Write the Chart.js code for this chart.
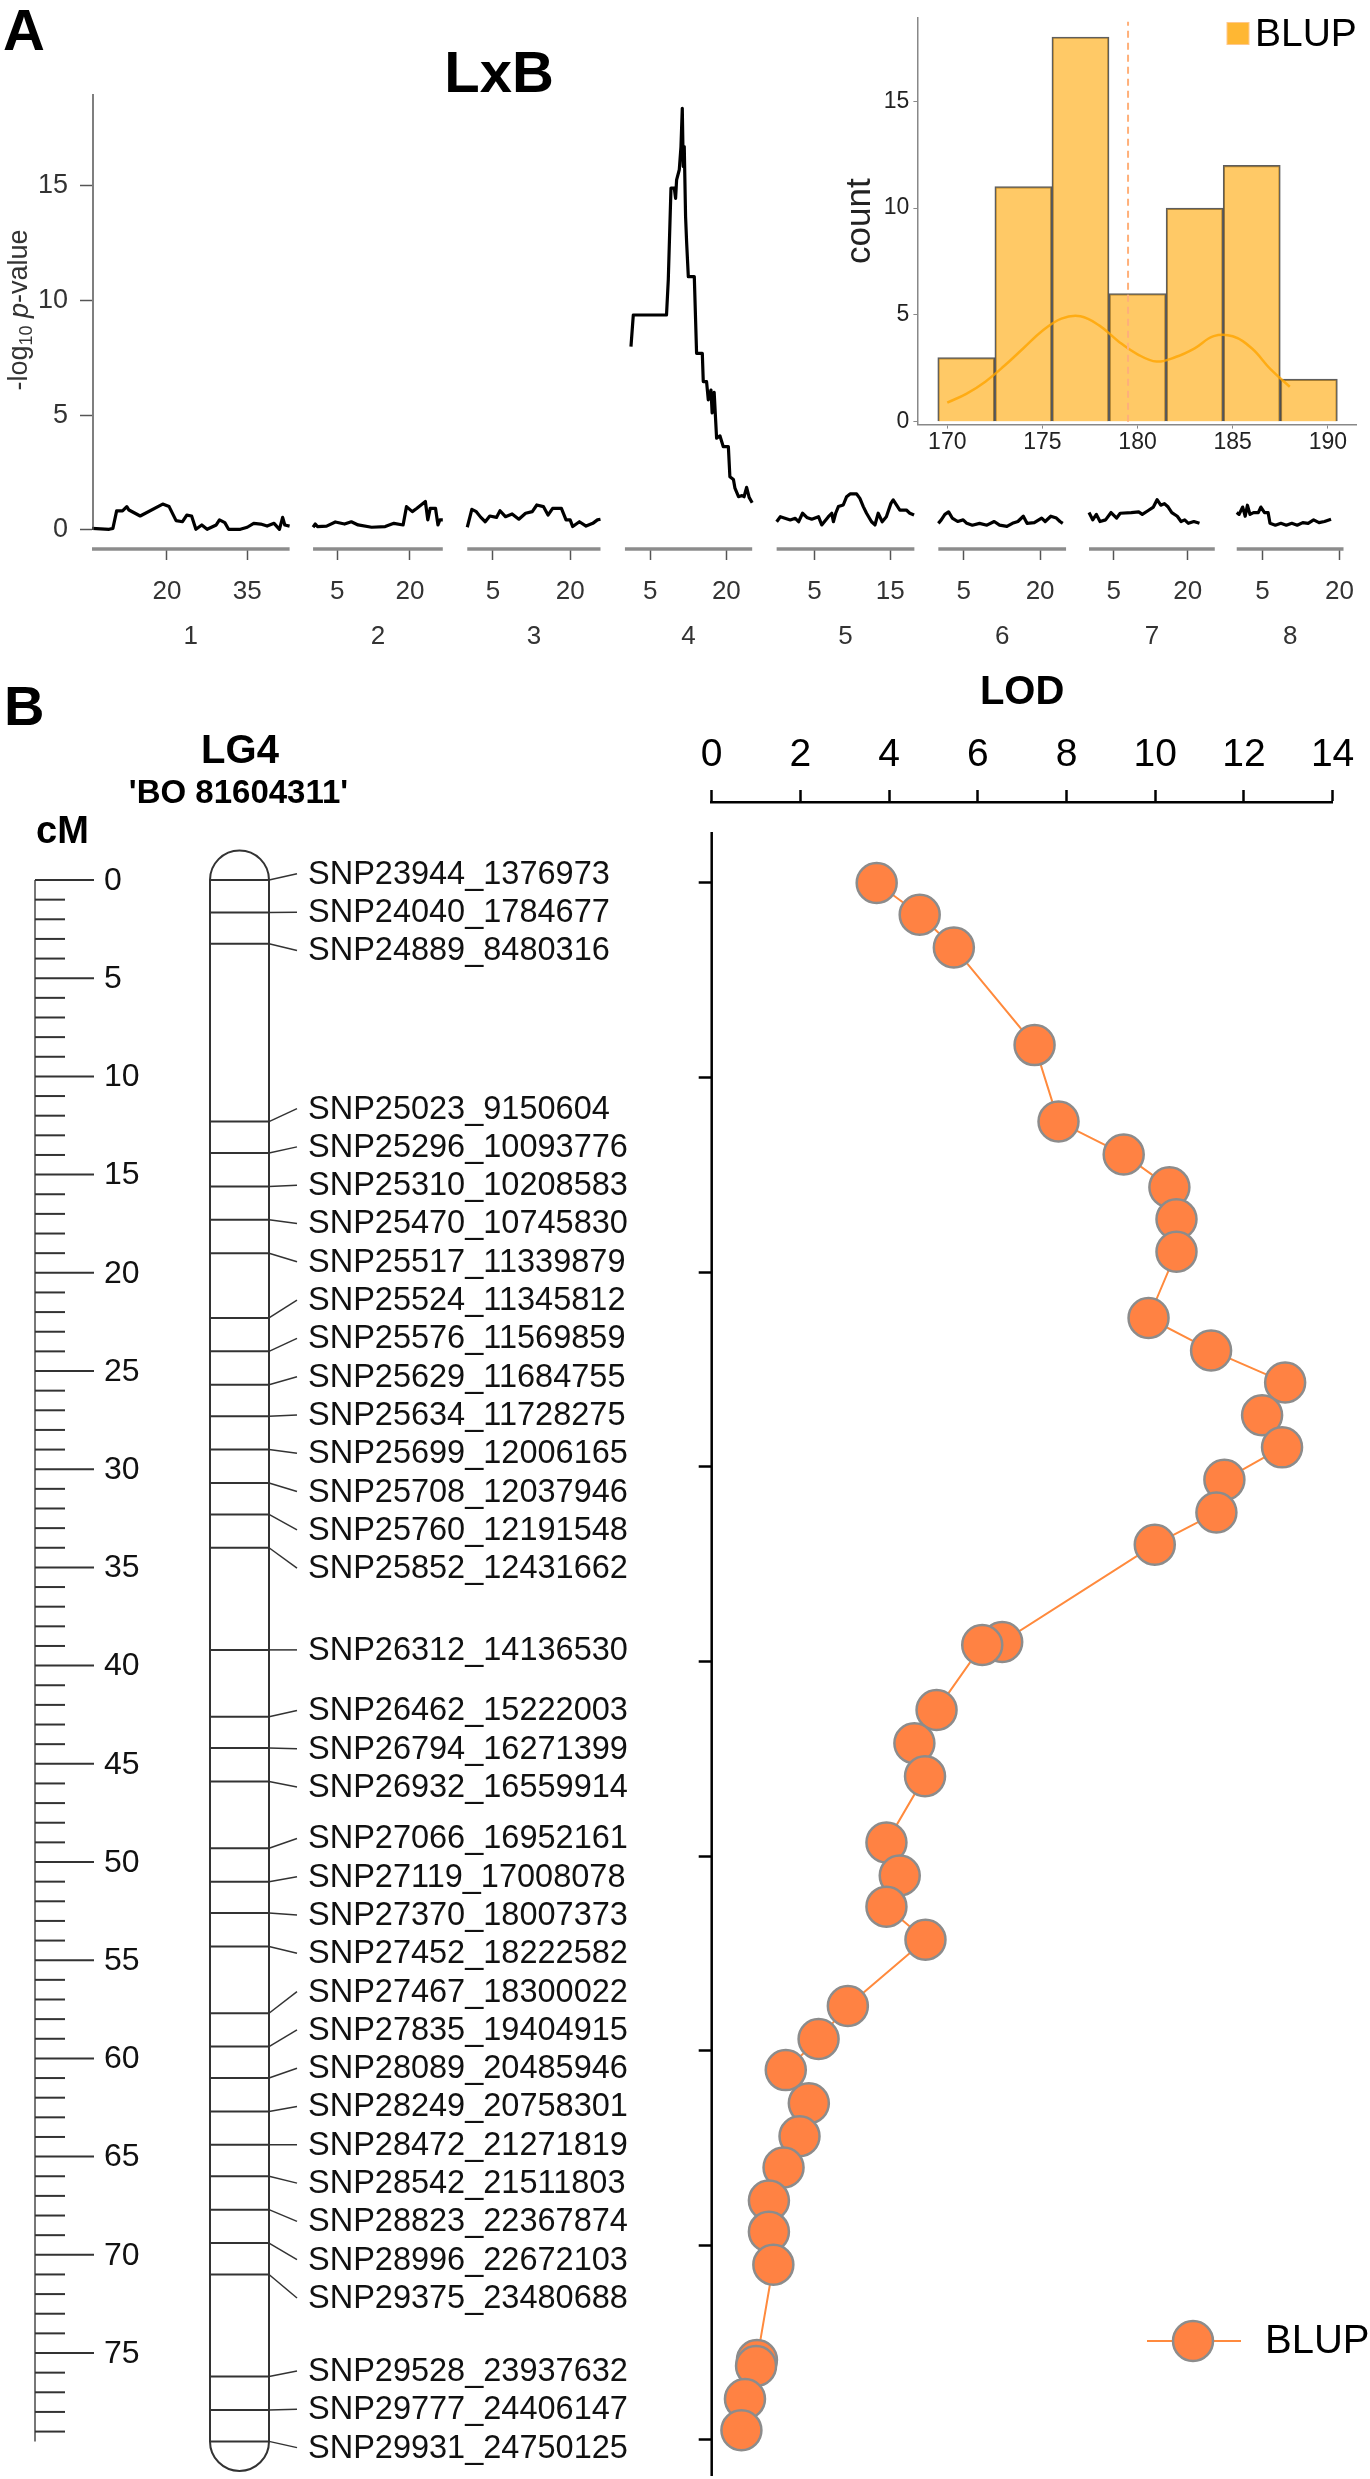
<!DOCTYPE html>
<html lang="en">
<head>
<meta charset="UTF-8" />
<title>LxB scan and LG4 LOD profile</title>
<script src="https://cdn.jsdelivr.net/npm/chart.js"></script>
<style>
  body { margin: 0; background: #fff; }
  #page { position: relative; width: 1370px; height: 2479px; overflow: hidden; }
  .box { position: absolute; }
</style>
</head>
<body>
<div id="page">
  <div class="box" style="left:0;top:0;width:1370px;height:680px"><canvas id="scanChart"></canvas></div>
  <div class="box" style="left:800px;top:0;width:570px;height:480px"><canvas id="histChart"></canvas></div>
  <div class="box" style="left:0;top:650px;width:680px;height:1829px"><canvas id="mapChart"></canvas></div>
  <div class="box" style="left:680px;top:650px;width:690px;height:1829px"><canvas id="lodChart"></canvas></div>
</div>

<script>
  // ---- panel A : genome scan ----
  const chromosomes = ['1', '2', '3', '4', '5', '6', '7', '8'];
  const chrStart = [6, 0, 0, 0, 0, 0, 0, 0];
  const chrEnd = [42.9, 26.8, 25.9, 25.1, 18.2, 25.1, 25.5, 20.8];
  const chrTicks = [[20, 35], [5, 20], [5, 20], [5, 20], [5, 15], [5, 20], [5, 20], [5, 20]];
  const logPTicks = [0, 5, 10, 15];

  const chr1Pos = [6.0, 9.2, 9.9, 10.6, 11.7, 12.5, 12.9, 15.0, 19.2, 20.4, 21.7, 22.9, 23.7, 24.6, 25.4, 26.5, 27.5, 29.2, 29.8, 30.8, 31.5, 33.7, 35.0, 36.2, 37.5, 38.7, 40.0, 41.0, 41.6, 42.0, 42.9];
  const chr1LogP = [0.07, 0.03, 0.07, 0.83, 0.83, 1.02, 0.87, 0.61, 1.13, 1.02, 0.41, 0.36, 0.65, 0.61, 0.03, 0.22, 0.03, 0.22, 0.44, 0.32, 0.03, 0.03, 0.12, 0.29, 0.26, 0.17, 0.29, 0.03, 0.55, 0.22, 0.17];
  const chr2Pos = [0.0, 0.46, 0.9, 2.8, 4.6, 6.5, 7.9, 9.3, 12.1, 14.9, 16.7, 18.6, 19.3, 20.5, 21.4, 22.3, 23.2, 23.7, 24.2, 25.3, 25.8, 26.2, 26.8];
  const chr2LogP = [0.12, 0.26, 0.15, 0.17, 0.35, 0.26, 0.36, 0.22, 0.12, 0.15, 0.29, 0.22, 1.02, 0.80, 0.94, 1.09, 1.24, 0.44, 0.94, 0.94, 0.22, 0.44, 0.44];
  const chr3Pos = [0.0, 0.28, 0.89, 1.76, 2.64, 3.5, 4.38, 5.68, 6.37, 7.42, 8.72, 10.03, 11.34, 12.64, 13.52, 14.8, 15.7, 16.6, 18.3, 19.2, 20.0, 20.5, 21.8, 23.1, 24.4, 25.3, 25.9];
  const chr3LogP = [0.12, 0.36, 0.90, 0.80, 0.55, 0.36, 0.61, 0.55, 0.84, 0.58, 0.70, 0.47, 0.73, 0.80, 1.09, 1.02, 0.65, 0.94, 0.94, 0.44, 0.44, 0.15, 0.36, 0.17, 0.29, 0.44, 0.47];
  const chr4Pos = [1.19, 1.65, 8.2, 8.55, 9.08, 9.73, 9.99, 10.19, 10.72, 11.05, 11.31, 11.5, 11.7, 11.96, 12.16, 12.5, 13.68, 14.13, 15.26, 15.45, 16.1, 16.44, 16.97, 17.2, 17.6, 18.08, 18.75, 19.4, 20.4, 20.7, 21.4, 21.7, 22.4, 23.1, 23.5, 24.0, 24.5, 25.1];
  const chr4LogP = [7.99, 9.37, 9.37, 10.9, 14.9, 14.9, 14.45, 15.26, 15.7, 16.7, 18.38, 15.84, 16.71, 13.66, 12.57, 11.04, 11.04, 7.7, 7.7, 6.47, 6.47, 5.67, 6.1, 5.1, 6.0, 4.0, 4.1, 3.63, 3.63, 2.32, 2.2, 1.82, 1.45, 1.5, 1.45, 1.86, 1.42, 1.19];
  const chr5Pos = [0.0, 0.49, 1.8, 2.46, 2.9, 3.42, 3.99, 4.64, 5.53, 5.96, 6.84, 7.28, 7.5, 7.8, 8.16, 8.8, 9.25, 9.7, 10.57, 11.0, 11.45, 11.88, 12.54, 12.99, 13.42, 13.95, 14.5, 15.1, 15.4, 15.83, 16.28, 17.14, 17.6, 18.16];
  const chr5LogP = [0.36, 0.58, 0.44, 0.51, 0.36, 0.73, 0.55, 0.47, 0.58, 0.22, 0.58, 0.73, 0.36, 0.73, 1.02, 1.09, 1.45, 1.57, 1.57, 1.38, 1.02, 0.73, 0.36, 0.22, 0.73, 0.36, 0.58, 1.16, 1.31, 1.09, 0.87, 0.87, 0.73, 0.65];
  const chr6Pos = [0.0, 0.58, 1.29, 2.02, 2.73, 3.8, 4.88, 5.6, 6.68, 8.11, 9.54, 10.98, 12.04, 13.48, 14.56, 15.63, 16.7, 17.43, 18.86, 20.3, 21.0, 22.1, 23.2, 23.9, 24.45];
  const chr6LogP = [0.29, 0.44, 0.68, 0.79, 0.52, 0.37, 0.44, 0.29, 0.21, 0.29, 0.21, 0.37, 0.21, 0.16, 0.29, 0.37, 0.60, 0.29, 0.32, 0.52, 0.37, 0.60, 0.52, 0.37, 0.29];
  const chr7Pos = [0.0, 0.75, 1.49, 2.23, 3.36, 4.47, 5.6, 6.33, 8.57, 10.07, 10.8, 11.94, 13.05, 13.8, 14.55, 15.29, 16.05, 16.79, 17.9, 18.66, 19.4, 20.15, 21.26, 22.4];
  const chr7LogP = [0.76, 0.44, 0.68, 0.37, 0.44, 0.76, 0.52, 0.73, 0.76, 0.79, 0.68, 0.84, 1.00, 1.32, 1.08, 1.15, 1.00, 0.76, 0.60, 0.37, 0.44, 0.29, 0.37, 0.29];
  const chr8Pos = [0.0, 0.46, 1.16, 1.65, 2.08, 2.58, 3.28, 4.2, 4.7, 5.41, 6.11, 6.48, 7.53, 8.6, 9.66, 10.73, 11.78, 12.86, 13.91, 14.98, 16.03, 17.1, 18.37];
  const chr8LogP = [0.76, 0.68, 1.00, 0.60, 1.08, 0.68, 0.76, 0.76, 1.00, 0.76, 0.76, 0.29, 0.21, 0.29, 0.21, 0.29, 0.21, 0.32, 0.29, 0.44, 0.32, 0.37, 0.47];

  // ---- inset : BLUP histogram ----
  const binCenters = [171, 174, 177, 180, 183, 186, 189];
  const binCounts = [3, 11, 18, 6, 10, 12, 2];
  const densityX = [170, 171, 172, 173, 174, 175, 176, 177, 178, 179, 180, 181, 182, 183, 184, 185, 186, 187, 188];
  const densityY = [0.9, 1.31, 1.88, 2.62, 3.44, 4.26, 4.83, 4.94, 4.5, 3.76, 3.16, 2.82, 3.03, 3.44, 4.01, 4.0, 3.44, 2.45, 1.64];
  const blupMean = 179.5;
  const histXTicks = [170, 175, 180, 185, 190];
  const histYTicks = [0, 5, 10, 15];

  // ---- panel B : LG4 map and LOD profile ----
  const markerNames = ['SNP23944_1376973', 'SNP24040_1784677', 'SNP24889_8480316', 'SNP25023_9150604', 'SNP25296_10093776',
    'SNP25310_10208583', 'SNP25470_10745830', 'SNP25517_11339879', 'SNP25524_11345812', 'SNP25576_11569859',
    'SNP25629_11684755', 'SNP25634_11728275', 'SNP25699_12006165', 'SNP25708_12037946', 'SNP25760_12191548',
    'SNP25852_12431662', 'SNP26312_14136530', 'SNP26462_15222003', 'SNP26794_16271399', 'SNP26932_16559914',
    'SNP27066_16952161', 'SNP27119_17008078', 'SNP27370_18007373', 'SNP27452_18222582', 'SNP27467_18300022',
    'SNP27835_19404915', 'SNP28089_20485946', 'SNP28249_20758301', 'SNP28472_21271819', 'SNP28542_21511803',
    'SNP28823_22367874', 'SNP28996_22672103', 'SNP29375_23480688', 'SNP29528_23937632', 'SNP29777_24406147',
    'SNP29931_24750125'];
  const markerCM = [0, 1.66, 3.25, 12.3, 13.9, 15.6, 17.3, 19.0, 22.3, 24.0, 25.7, 27.3, 29.0, 30.7, 32.3, 34.0, 39.2,
    42.6, 44.2, 45.9, 49.3, 51.0, 52.6, 54.3, 57.7, 59.4, 61.0, 62.7, 64.4, 66.0, 67.7, 69.4, 71.0, 76.2, 77.9, 79.5];
  const lodCM = [0, 1.63, 3.31, 8.33, 12.26, 13.95, 15.63, 17.28, 18.95, 22.35, 24.02, 25.67, 27.35, 29.0, 30.67, 32.35,
    34.0, 39.0, 39.16, 42.5, 44.2, 45.9, 49.3, 51.0, 52.6, 54.3, 57.7, 59.4, 61.0, 62.7, 64.4, 66.0, 67.7, 69.3, 71.0,
    75.9, 76.2, 77.9, 79.5];
  const lodBLUP = [3.72, 4.69, 5.46, 7.28, 7.82, 9.29, 10.32, 10.48, 10.48, 9.85, 11.26, 12.93, 12.41, 12.86, 11.56, 11.38,
    9.99, 6.55, 6.10, 5.07, 4.57, 4.81, 3.94, 4.24, 3.94, 4.82, 3.07, 2.41, 1.67, 2.19, 1.98, 1.62, 1.29, 1.29, 1.39,
    1.02, 1.0, 0.75, 0.67];
  const lodAxisTicks = [0, 10, 20, 30, 40, 50, 60, 70, 80];

  // ---------------------------------------------------------------
  const FONT = "'Liberation Sans', Arial, Helvetica, sans-serif";
  const font = (size, weight) => (weight || '') + ' ' + size + 'px ' + FONT;
  Chart.defaults.font.family = FONT;
  Chart.defaults.animation = false;
  Chart.defaults.plugins.legend.display = false;
  Chart.defaults.plugins.tooltip.enabled = false;

  // pixel slots of the chromosomes along panel A's x axis
  const segLeft = [92, 313.5, 468, 626, 778, 940, 1091, 1239];
  const segRight = [290, 443.5, 601.5, 753.5, 916, 1068, 1217, 1346];
  function toPlot(c, pos) {
    return segLeft[c] + (pos - chrStart[c]) / (chrEnd[c] - chrStart[c]) * (segRight[c] - segLeft[c]);
  }
  const scanPos = [chr1Pos, chr2Pos, chr3Pos, chr4Pos, chr5Pos, chr6Pos, chr7Pos, chr8Pos];
  const scanLogP = [chr1LogP, chr2LogP, chr3LogP, chr4LogP, chr5LogP, chr6LogP, chr7LogP, chr8LogP];
  const xTickVals = chrTicks.flatMap((ts, i) => ts.map(t => toPlot(i, t)));
  const xTickText = chrTicks.flat().map(String);

  const scanDecor = {
    id: 'scanDecor',
    afterDraw(chart) {
      const { ctx, chartArea, scales } = chart;
      const xs = scales.x, ys = scales.y;
      ctx.save();
      ctx.strokeStyle = '#8c8c8c';
      ctx.lineWidth = 3.5;
      segLeft.forEach((l, i) => {
        ctx.beginPath();
        ctx.moveTo(xs.getPixelForValue(l), chartArea.bottom);
        ctx.lineTo(xs.getPixelForValue(segRight[i]), chartArea.bottom);
        ctx.stroke();
      });
      ctx.strokeStyle = '#555';
      ctx.lineWidth = 1.5;
      ctx.beginPath();
      ctx.moveTo(chartArea.left + 1, ys.getPixelForValue(0));
      ctx.lineTo(chartArea.left + 1, chartArea.top);
      ctx.stroke();

      ctx.fillStyle = '#000';
      ctx.font = font(58, 'bold');
      ctx.textAlign = 'left';
      ctx.fillText('A', 3, 50);
      ctx.textAlign = 'center';
      ctx.fillText('LxB', 499, 92);

      // -log10 p-value
      ctx.translate(20, 310);
      ctx.rotate(-Math.PI / 2);
      ctx.fillStyle = '#333';
      ctx.textAlign = 'left';
      ctx.textBaseline = 'middle';
      const parts = [['-log', font(27), 0], ['10', font(18), 7], [' ', font(27), 0], ['p', 'italic ' + font(27), 0], ['-value', font(27), 0]];
      let total = 0;
      parts.forEach(p => { ctx.font = p[1]; total += ctx.measureText(p[0]).width; });
      let x = -total / 2;
      parts.forEach(p => { ctx.font = p[1]; ctx.fillText(p[0], x, p[2]); x += ctx.measureText(p[0]).width; });
      ctx.restore();
    }
  };

  new Chart(document.getElementById('scanChart'), {
    type: 'line',
    data: {
      datasets: chromosomes.map((c, i) => ({
        label: 'chr' + c,
        data: scanPos[i].map((p, k) => ({ x: toPlot(i, p), y: scanLogP[i][k] })),
        borderColor: '#000',
        borderWidth: 3.2,
        borderJoinStyle: 'round',
        pointRadius: 0,
        tension: 0
      }))
    },
    options: {
      responsive: true,
      maintainAspectRatio: false,
      layout: { autoPadding: false, padding: { top: 94, right: 20, left: 0, bottom: 0 } },
      scales: {
        x: {
          type: 'linear', min: 92, max: 1350, position: 'bottom', weight: 0,
          grid: { drawOnChartArea: false, tickLength: 11, tickColor: '#555', tickWidth: 1.5 },
          border: { display: false },
          ticks: { font: { size: 26 }, color: '#333', padding: 16, autoSkip: false, maxRotation: 0,
            callback: (v, i) => xTickText[i] },
          afterBuildTicks: s => { s.ticks = xTickVals.map(v => ({ value: v })); },
          afterFit: s => { s.height = 57; }
        },
        chr: {
          type: 'linear', min: 92, max: 1350, position: 'bottom', weight: 1,
          grid: { display: false, drawTicks: false },
          border: { display: false },
          ticks: { font: { size: 26 }, color: '#333', padding: 15, autoSkip: false, maxRotation: 0,
            callback: (v, i) => chromosomes[i] },
          afterBuildTicks: s => { s.ticks = segLeft.map((l, i) => ({ value: (l + segRight[i]) / 2 })); },
          afterFit: s => { s.height = 74; }
        },
        y: {
          type: 'linear', min: -0.828, max: 19.0,
          grid: { drawOnChartArea: false, tickLength: 12, tickColor: '#555', tickWidth: 1.5 },
          border: { display: false },
          ticks: { font: { size: 27 }, color: '#333', padding: 12, callback: v => String(v) },
          afterBuildTicks: s => { s.ticks = logPTicks.map(v => ({ value: v })); },
          afterFit: s => { s.width = 92; }
        }
      }
    },
    plugins: [scanDecor]
  });

  // ---- histogram inset ----
  const histDecor = {
    id: 'histDecor',
    afterDatasetsDraw(chart) {
      const { ctx, chartArea, scales } = chart;
      const px = scales.x.getPixelForValue(blupMean);
      ctx.save();
      ctx.strokeStyle = '#FFB07A';
      ctx.lineWidth = 2;
      ctx.setLineDash([7, 5]);
      ctx.beginPath();
      ctx.moveTo(px, scales.y.getPixelForValue(0));
      ctx.lineTo(px, chartArea.top + 4);
      ctx.stroke();
      ctx.restore();
    },
    afterDraw(chart) {
      const { ctx } = chart;
      ctx.save();
      ctx.fillStyle = 'rgba(255,165,0,0.8)';
      ctx.fillRect(427, 22.5, 22, 22);
      ctx.strokeStyle = 'rgba(255,200,140,1)';
      ctx.lineWidth = 1;
      ctx.strokeRect(427, 22.5, 22, 22);
      ctx.fillStyle = '#000';
      ctx.font = font(39);
      ctx.textBaseline = 'middle';
      ctx.fillText('BLUP', 455, 35);
      ctx.restore();
    }
  };

  new Chart(document.getElementById('histChart'), {
    type: 'bar',
    data: {
      datasets: [
        {
          type: 'line', label: 'density', order: 1,
          data: densityX.map((x, i) => ({ x: x, y: densityY[i] })),
          borderColor: 'rgba(255,165,0,0.8)', borderWidth: 2.5, pointRadius: 0, tension: 0.4
        },
        {
          type: 'bar', label: 'BLUP', order: 2,
          data: binCenters.map((x, i) => ({ x: x, y: binCounts[i] })),
          backgroundColor: 'rgba(255,165,0,0.6)', borderColor: 'rgba(40,40,40,0.75)', borderWidth: 1.5,
          barPercentage: 1, categoryPercentage: 1
        }
      ]
    },
    options: {
      responsive: true,
      maintainAspectRatio: false,
      layout: { autoPadding: false, padding: { top: 1.8, right: 13.8, left: 0, bottom: 0 } },
      scales: {
        x: {
          type: 'linear', min: 168.43, max: 191.49, offset: false,
          grid: { offset: false, drawOnChartArea: false, tickLength: 4, tickColor: '#888', tickWidth: 1 },
          border: { color: '#888', width: 1.5 },
          ticks: { font: { size: 23 }, color: '#222', padding: 0, autoSkip: false, maxRotation: 0 },
          afterBuildTicks: s => { s.ticks = histXTicks.map(v => ({ value: v })); },
          afterFit: s => { s.height = 55.4; }
        },
        y: {
          type: 'linear', min: -0.13, max: 18.9,
          grid: { drawOnChartArea: false, tickLength: 4, tickColor: '#888', tickWidth: 1 },
          border: { color: '#888', width: 1.5 },
          title: { display: true, text: 'count', font: { size: 35 }, color: '#222', padding: { top: 39, bottom: 0 } },
          ticks: { font: { size: 23 }, color: '#222', padding: 4 },
          afterBuildTicks: s => { s.ticks = histYTicks.map(v => ({ value: v })); },
          afterFit: s => { s.width = 117.4; }
        }
      }
    },
    plugins: [histDecor]
  });

  // ---- linkage map of LG4 ----
  const barLeft = 210, barRight = 269, labelGap = 38.3;

  function spreadLabels(ideal, gap) {
    let groups = ideal.map(y => ({ sum: y, n: 1, top: y }));
    let merged = true;
    while (merged) {
      merged = false;
      for (let k = 0; k < groups.length - 1; k++) {
        const a = groups[k], b = groups[k + 1];
        if (b.top - (a.top + (a.n - 1) * gap) < gap) {
          const g = { sum: a.sum + b.sum, n: a.n + b.n };
          g.top = g.sum / g.n - (g.n - 1) * gap / 2;
          groups.splice(k, 2, g);
          merged = true;
          break;
        }
      }
    }
    const out = [];
    groups.forEach(g => { for (let i = 0; i < g.n; i++) out.push(g.top + i * gap); });
    return out;
  }

  const mapDecor = {
    id: 'mapDecor',
    beforeDatasetsDraw(chart) {
      const { ctx, scales } = chart;
      const X = v => scales.x.getPixelForValue(v), Y = v => scales.y.getPixelForValue(v);
      const first = markerCM[0], last = markerCM[markerCM.length - 1];
      ctx.save();
      // titles
      ctx.fillStyle = '#000';
      ctx.textAlign = 'left';
      ctx.font = font(56, 'bold');
      ctx.fillText('B', 4, 75);
      ctx.textAlign = 'center';
      ctx.font = font(40, 'bold');
      ctx.fillText('LG4', 240, 113);
      ctx.font = font(33, 'bold');
      ctx.fillText("'BO 81604311'", 238.5, 153);
      ctx.textAlign = 'left';
      ctx.font = font(38, 'bold');
      ctx.fillText('cM', 36, 193);

      // cM ruler
      ctx.strokeStyle = '#777';
      ctx.lineWidth = 2;
      ctx.beginPath();
      ctx.moveTo(X(35), Y(first));
      ctx.lineTo(X(35), Y(last));
      ctx.stroke();
      ctx.strokeStyle = '#333';
      ctx.fillStyle = '#111';
      ctx.font = font(32);
      ctx.textBaseline = 'middle';
      for (let c = 0; c <= Math.floor(last); c++) {
        const major = c % 5 === 0;
        ctx.beginPath();
        ctx.moveTo(X(35), Y(c));
        ctx.lineTo(X(major ? 94 : 65), Y(c));
        ctx.stroke();
        if (major) ctx.fillText(String(c), X(104), Y(c) + 1);
      }

      // chromosome outline
      const r = (barRight - barLeft) / 2, cx = (barLeft + barRight) / 2;
      ctx.strokeStyle = '#333';
      ctx.lineWidth = 2;
      ctx.beginPath();
      ctx.arc(X(cx), Y(first), r, Math.PI, 0);
      ctx.lineTo(X(barRight), Y(last));
      ctx.arc(X(cx), Y(last), r, 0, Math.PI);
      ctx.closePath();
      ctx.stroke();
      ctx.restore();
    },
    afterDatasetsDraw(chart) {
      const { ctx, scales } = chart;
      const X = v => scales.x.getPixelForValue(v), Y = v => scales.y.getPixelForValue(v);
      const ideal = markerCM.map(c => Y(c));
      const placed = spreadLabels(ideal, labelGap);
      ctx.save();
      ctx.strokeStyle = '#333';
      ctx.lineWidth = 1.5;
      ctx.fillStyle = '#111';
      ctx.font = font(32.5);
      ctx.textBaseline = 'middle';
      ctx.textAlign = 'left';
      markerNames.forEach((name, i) => {
        ctx.beginPath();
        ctx.moveTo(X(barRight), ideal[i]);
        ctx.lineTo(X(297), placed[i]);
        ctx.stroke();
        ctx.fillText(name, X(308), placed[i] + 1);
      });
      ctx.restore();
    }
  };

  new Chart(document.getElementById('mapChart'), {
    type: 'scatter',
    data: {
      datasets: [{
        label: 'markers',
        data: markerCM.map(c => ({ x: (barLeft + barRight) / 2, y: c })),
        pointStyle: 'line',
        pointRadius: (barRight - barLeft) / 2,
        pointBorderColor: '#333',
        pointBorderWidth: 2
      }]
    },
    options: {
      responsive: true,
      maintainAspectRatio: false,
      layout: { autoPadding: false, padding: 0 },
      scales: {
        x: { type: 'linear', display: false, min: 0, max: 680 },
        y: { type: 'linear', display: false, reverse: true, min: -11.711, max: 81.415 }
      }
    },
    plugins: [mapDecor]
  });

  // ---- LOD profile ----
  const lodDecor = {
    id: 'lodDecor',
    afterDraw(chart) {
      const { ctx, chartArea, scales } = chart;
      ctx.save();
      ctx.strokeStyle = '#000';
      ctx.lineWidth = 2.5;
      ctx.beginPath();
      ctx.moveTo(chartArea.left, scales.y.getPixelForValue(-2.62));
      ctx.lineTo(chartArea.left, scales.y.getPixelForValue(81.85));
      ctx.stroke();

      // legend
      ctx.strokeStyle = '#FF8A3D';
      ctx.lineWidth = 2;
      ctx.beginPath();
      ctx.moveTo(467, 1691);
      ctx.lineTo(561, 1691);
      ctx.stroke();
      ctx.beginPath();
      ctx.arc(513, 1691, 20, 0, Math.PI * 2);
      ctx.fillStyle = '#FF8243';
      ctx.fill();
      ctx.strokeStyle = '#8C8C8C';
      ctx.lineWidth = 2.5;
      ctx.stroke();
      ctx.fillStyle = '#000';
      ctx.font = font(40);
      ctx.textBaseline = 'middle';
      ctx.fillText('BLUP', 585, 1692);
      ctx.restore();
    }
  };

  new Chart(document.getElementById('lodChart'), {
    type: 'line',
    data: {
      datasets: [{
        label: 'BLUP',
        data: lodCM.map((c, i) => ({ x: lodBLUP[i], y: c })),
        borderColor: '#FF8A3D',
        borderWidth: 2,
        pointRadius: 20,
        pointHoverRadius: 20,
        pointBackgroundColor: '#FF8243',
        pointBorderColor: '#8C8C8C',
        pointBorderWidth: 2.5,
        tension: 0
      }]
    },
    options: {
      responsive: true,
      maintainAspectRatio: false,
      layout: { autoPadding: false, padding: { top: 0, right: 37.4, left: 0, bottom: 0 } },
      scales: {
        x: {
          type: 'linear', position: 'top', min: 0, max: 14,
          grid: { drawOnChartArea: false, tickLength: 12, tickColor: '#000', tickWidth: 2.5 },
          border: { color: '#000', width: 2.5 },
          ticks: { stepSize: 2, font: { size: 39 }, color: '#000', padding: 11, maxRotation: 0 },
          title: { display: true, text: 'LOD', font: { size: 40, weight: 'bold' }, color: '#000', padding: { top: 18.5, bottom: 0 } },
          afterFit: s => { s.height = 152; }
        },
        y: {
          type: 'linear', reverse: true, min: -4.162, max: 82.01,
          grid: { drawOnChartArea: false, tickLength: 13, tickColor: '#000', tickWidth: 2.5 },
          border: { display: false },
          ticks: { display: false },
          afterBuildTicks: s => { s.ticks = lodAxisTicks.map(v => ({ value: v })); },
          afterFit: s => { s.width = 31.7; }
        }
      }
    },
    plugins: [lodDecor]
  });
</script>
</body>
</html>
